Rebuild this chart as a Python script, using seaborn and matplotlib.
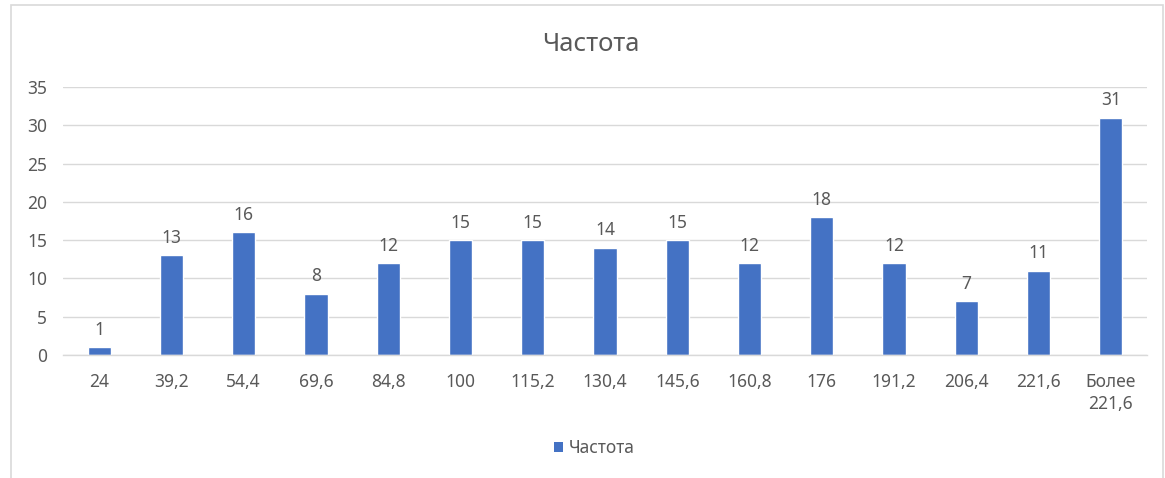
import matplotlib
matplotlib.use("Agg")
import matplotlib.pyplot as plt
from matplotlib.patches import Rectangle, Patch
import seaborn as sns
import pandas as pd

bins = ["24", "39,2", "54,4", "69,6", "84,8", "100", "115,2", "130,4",
        "145,6", "160,8", "176", "191,2", "206,4", "221,6", "Более\n221,6"]
counts = [1, 13, 16, 8, 12, 15, 15, 14, 15, 12, 18, 12, 7, 11, 31]
series_name = "Частота"
y_ticks = [0, 5, 10, 15, 20, 25, 30, 35]

sns.set_theme(style="white")
plt.rcParams["font.family"] = ["Noto Sans", "DejaVu Sans"]

text_color = "#595959"
grid_color = "#D9D9D9"
bar_color = "#4472C4"

df = pd.DataFrame({"bin": bins, "count": counts})

fig = plt.figure(figsize=(11.65, 4.78), dpi=100)
ax = fig.add_axes([0.0541, 0.2573, 0.9304, 0.5607])

sns.barplot(data=df, x="bin", y="count", color=bar_color, width=0.32,
            saturation=1, ax=ax, zorder=3)

ax.set_ylim(0, 35)
ax.set_xlim(-0.5, len(bins) - 0.5)
ax.set_yticks(y_ticks)
ax.yaxis.grid(True, color=grid_color, linewidth=1, zorder=0)
ax.set_xlabel("")
ax.set_ylabel("")
for side in ["top", "right", "left"]:
    ax.spines[side].set_visible(False)
ax.spines["bottom"].set_color(grid_color)
ax.spines["bottom"].set_linewidth(1)
ax.spines["bottom"].set_zorder(4)
ax.tick_params(axis="both", length=0, labelsize=12.5, colors=text_color)
ax.tick_params(axis="x", pad=13)
ax.tick_params(axis="y", pad=11.5)
for lbl in ax.get_xticklabels():
    lbl.set_linespacing(1.3)

ax.bar_label(ax.containers[0], labels=[str(v) for v in counts],
             padding=6, fontsize=12.5, color=text_color)

fig.text(0.507, 0.907, series_name, ha="center", va="center",
         fontsize=18.5, color=text_color)

handle = Patch(facecolor=bar_color, edgecolor="none")
fig.legend([handle], [series_name], loc="center", bbox_to_anchor=(0.51, 0.063),
           frameon=False, fontsize=12.5, labelcolor=text_color,
           handlelength=0.55, handleheight=0.55, handletextpad=0.3)

# chart-area frame
fig.patches.append(Rectangle((11 / 1165, -0.01), 1152 / 1165, 1 - 5 / 478 + 0.01,
                             transform=fig.transFigure, fill=False,
                             edgecolor="#D9D9D9", linewidth=1.2))

fig.savefig("out.png", dpi=100, facecolor="white")
